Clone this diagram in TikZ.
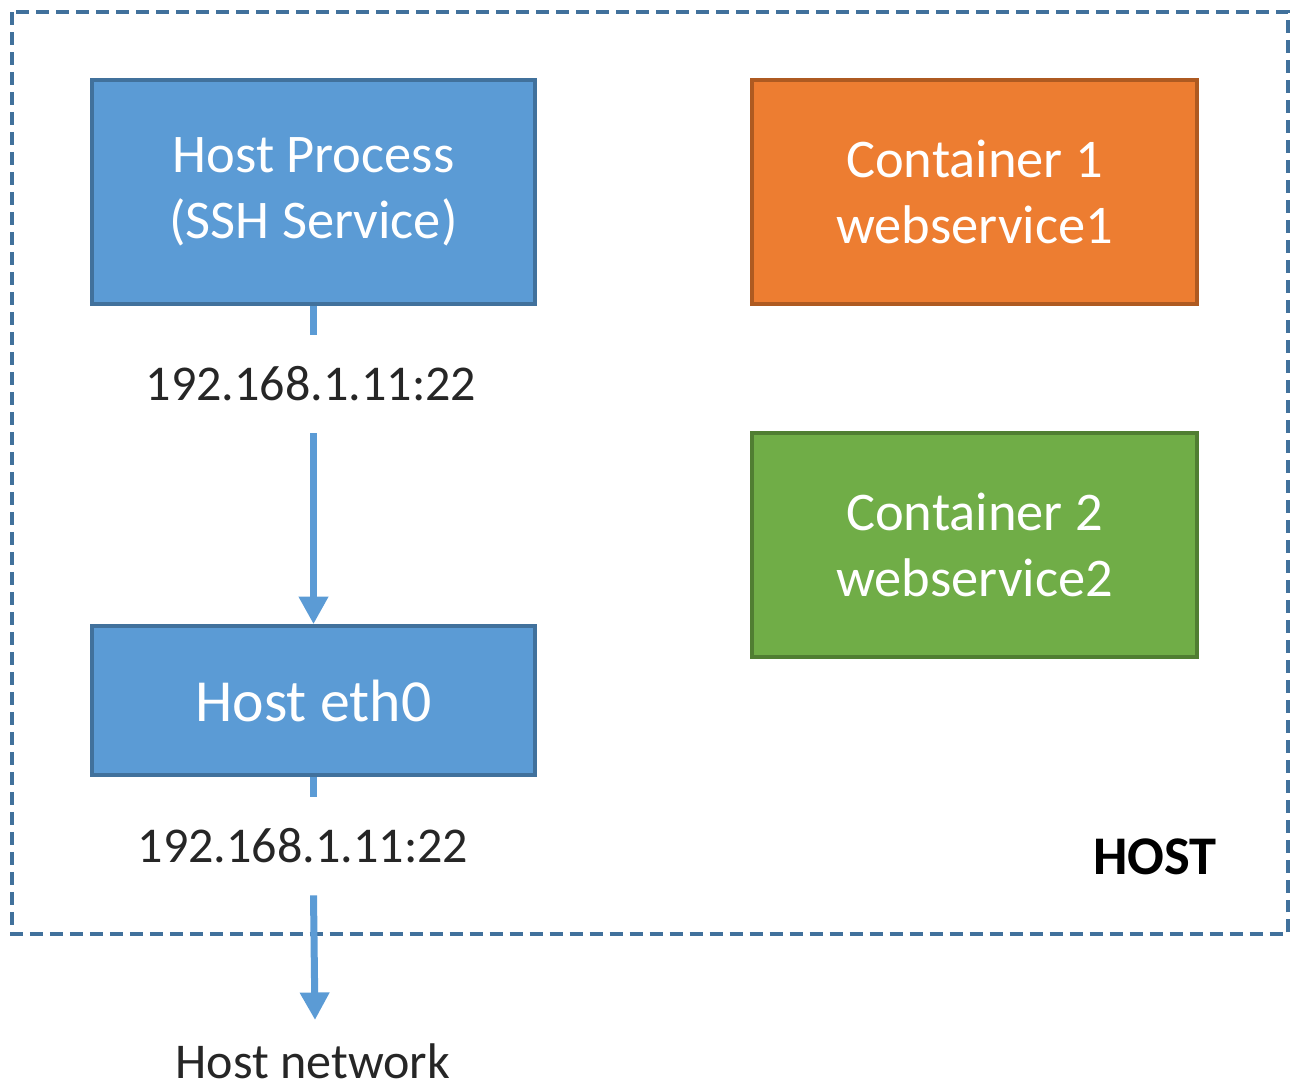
\documentclass[tikz,border=0pt]{standalone}
\usepackage{fontspec}
\setmainfont{Carlito}
\usetikzlibrary{arrows.meta}
\definecolor{bluefill}{HTML}{5B9BD5}
\definecolor{blueline}{HTML}{41719C}
\definecolor{orangefill}{HTML}{ED7D31}
\definecolor{orangeline}{HTML}{AE5A21}
\definecolor{greenfill}{HTML}{70AD47}
\definecolor{greenline}{HTML}{507E32}
\tikzset{
  x=0.02cm, y=-0.02cm,
  boxstyle/.style={rectangle, line width=0.075cm, text=white, align=center,
    inner sep=0pt, font=\fontsize{31}{37.5}\selectfont},
  bluebox/.style={boxstyle, fill=bluefill, draw=blueline},
  orangebox/.style={boxstyle, fill=orangefill, draw=orangeline},
  greenbox/.style={boxstyle, fill=greenfill, draw=greenline},
  lbl/.style={inner sep=0pt, font=\fontsize{28.5}{34}\selectfont, text=black!85},
  conn/.style={draw=bluefill, line width=0.14cm},
  tip/.style={-{Triangle[width=0.56cm,length=0.55cm]}},
}
\begin{document}
\begin{tikzpicture}
\useasboundingbox (0,0) rectangle (1291,1090);
% host frame
\draw[blueline, line width=0.075cm, dash pattern=on 0.26cm off 0.14cm] (12,12) rectangle (1288,934);
\node[font=\fontsize{31}{37}\selectfont\bfseries, inner sep=0pt] (host) at (1155,857) {HOST};
% boxes
\node[bluebox, minimum width=8.86cm, minimum height=4.48cm] (hp) at (313.5,192) {Host Process\\(SSH Service)};
\node[orangebox, minimum width=8.9cm, minimum height=4.48cm] (c1) at (974.5,192) {Container 1\\webservice1};
\node[greenbox, minimum width=8.9cm, minimum height=4.48cm] (c2) at (974.5,545) {Container 2\\webservice2};
\node[bluebox, minimum width=8.86cm, minimum height=2.98cm, font=\fontsize{34}{40}\selectfont] (eth) at (313.5,700.5) {Host eth0};
% labels
\node[lbl, minimum height=1.96cm] (ip1) at (311,384) {192.168.1.11:22};
\node[lbl, minimum height=1.96cm] (ip2) at (303,846) {192.168.1.11:22};
\node[lbl] (net) at (313,1061) {Host network};
\coordinate (netend) at (315,1020);
% connectors
\draw[conn] (hp.south) -- (hp.south |- ip1.north);
\draw[conn, tip] (hp.south |- ip1.south) -- (eth.north);
\draw[conn] (eth.south) -- (eth.south |- ip2.north);
\draw[conn, tip] (eth.south |- ip2.south) -- (netend);
\end{tikzpicture}
\end{document}
